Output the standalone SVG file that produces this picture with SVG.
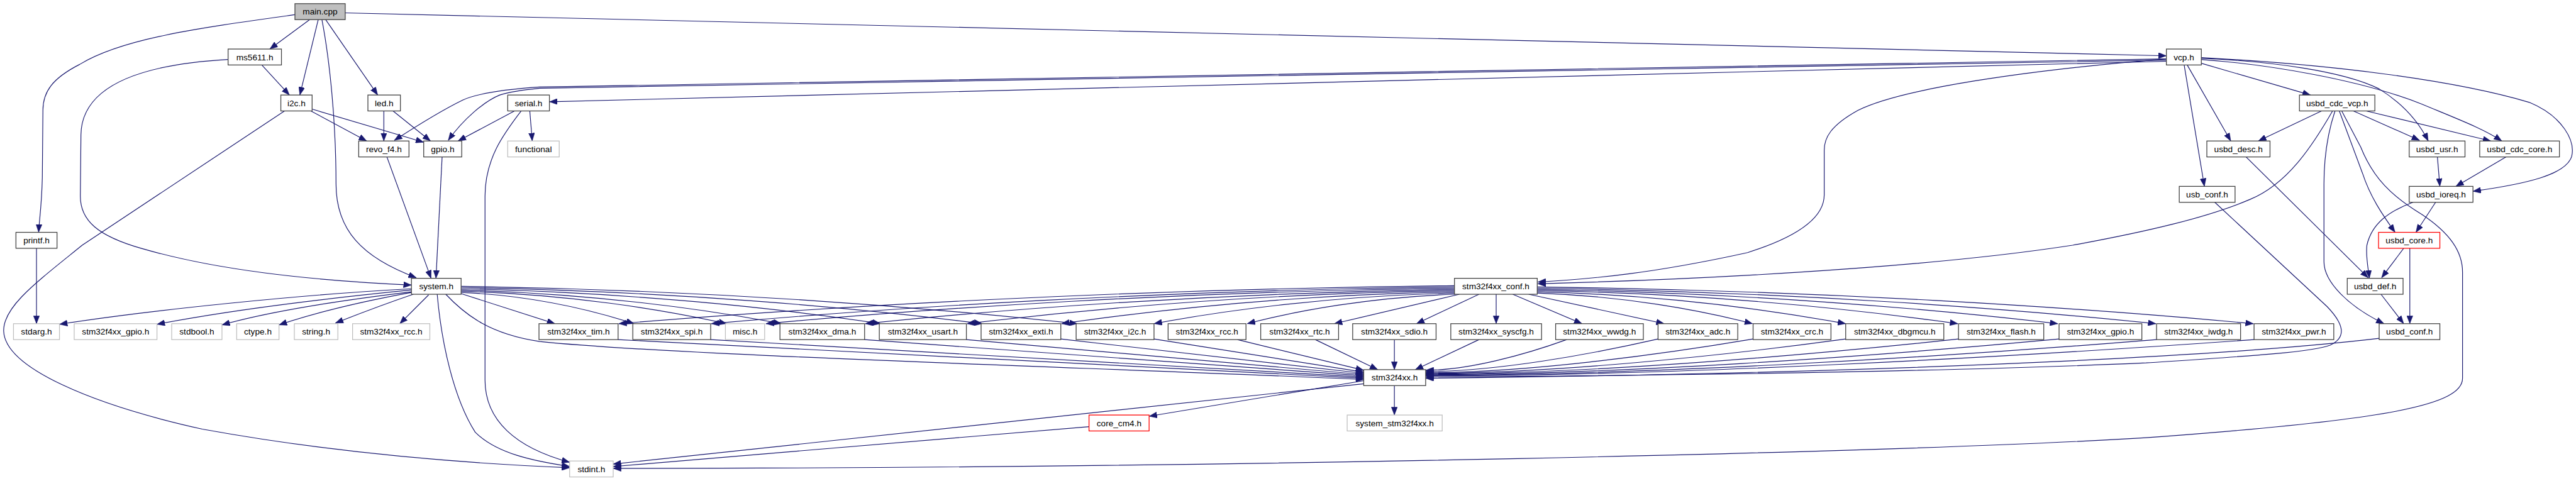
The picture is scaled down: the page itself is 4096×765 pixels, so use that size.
<svg xmlns="http://www.w3.org/2000/svg" width="4096" height="765" viewBox="0 0 4096 765">
<style>
.node rect{fill:#fff;stroke:#404040;stroke-width:1.3}
.node.g rect{stroke:#bfbfbf}
.node.r rect{stroke:#ff0000}
.node.m rect{fill:#bfbfbf}
.node text{font-family:"Liberation Sans",Arial,sans-serif;font-size:14px;text-anchor:middle;fill:#000}
#edges path{fill:none;stroke:#191970;stroke-width:1.2;marker-end:url(#a)}
</style>
<defs>
<marker id="a" viewBox="0 0 13 10" refX="13" refY="5" markerWidth="13" markerHeight="10" markerUnits="userSpaceOnUse" orient="auto"><path d="M0,0 L13,5 L0,10 z" fill="#191970" stroke="#191970" stroke-width="0.5"/></marker>
</defs>
<rect width="4096" height="765" fill="#fff"/>
<g transform="scale(0.975)">
<g id="edges">
<path d="M481,24 C330,45 200,62 130,105 C85,128 70,150 70,180 L69,290 C68,335 64,360 63,379"/>
<path d="M505,32 L440,80"/>
<path d="M519,32 L489,155"/>
<path d="M525,32 C538,100 548,200 548,300 C548,375 590,420 679,453"/>
<path d="M531,32 L616,155"/>
<path d="M563,21 L3533,91"/>
<path d="M427,106 L472,155"/>
<path d="M372,97 C230,105 133,140 132,220 L131,320 C131,360 160,385 230,405 C350,440 500,457 671,465"/>
<path d="M507,181 L598,230"/>
<path d="M509,178 L691,232"/>
<path d="M464,181 L134,400 C60,460 5,500 6,540 C8,600 150,660 330,700 C550,740 760,756 929,763"/>
<path d="M626,181 L626,230"/>
<path d="M641,181 L702,230"/>
<path d="M631,256 L703,454"/>
<path d="M721,256 L711,454"/>
<path d="M839,181 L747,230"/>
<path d="M850,181 C820,220 791,260 791,320 L791,620 C791,685 840,730 929,754"/>
<path d="M864,181 L868,230"/>
<path d="M59.5,405 L59.5,528"/>
<path d="M3533,100 L896,166"/>
<path d="M3533,96 L880,142 C820,146 780,152 755,163 C720,180 680,205 643,229"/>
<path d="M3533,98 L880,144 C850,147 830,150 815,155 C790,165 755,195 731,229"/>
<path d="M3533,96 C3300,115 3100,145 3030,180 C2985,205 2975,225 2975,245 L2975,318 C2975,360 2920,390 2850,412 C2700,445 2600,455 2508,460"/>
<path d="M3804,181 C3770,240 3730,300 3670,325 C3600,355 3500,378 3380,400 C3200,428 2900,452 2508,463"/>
<path d="M3589,103 L3768,155"/>
<path d="M3567,106 L3638,230"/>
<path d="M3562,106 L3595,304"/>
<path d="M3589,95 C3700,100 3820,115 3880,145 C3920,170 3945,200 3960,230"/>
<path d="M3589,97 C3700,105 3850,130 3950,170 C4010,195 4050,210 4080,230"/>
<path d="M3589,94 C3800,105 4000,130 4125,167 C4180,190 4200,230 4194,255 C4185,285 4120,300 4033,312"/>
<path d="M3786,181 L3683,230"/>
<path d="M3808,181 C3795,220 3790,260 3790,300 L3790,427 C3790,460 3830,500 3888,528"/>
<path d="M3815,181 L3853,283 C3865,320 3885,350 3906,379"/>
<path d="M3819,181 L3850,240 C3870,290 3900,320 3950,350 C3995,380 4016,410 4016,444 L4016,617 C4016,660 3900,685 3500,714 C3100,738 2000,764 1000,764"/>
<path d="M3838,181 L3946,229"/>
<path d="M3859,181 L4062,230"/>
<path d="M3663,256 L3862,453"/>
<path d="M3972,330 L3940,379"/>
<path d="M3935,330 C3895,345 3868,365 3860,400 C3858,420 3862,435 3864,454"/>
<path d="M3920,405 L3884,453"/>
<path d="M3930,405 L3930,528"/>
<path d="M3883,480 L3920,528"/>
<path d="M3975,256 L3979,304"/>
<path d="M4087,256 L4005,304"/>
<path d="M3612,330 L3795,500 C3822,528 3828,550 3800,563 C3770,575 3650,582 3500,592 C3200,605 2800,612 2325,615"/>
<path d="M3880,552 C3600,585 3000,610 2325,617"/>
<path d="M2274,629 L2274,677"/>
<path d="M2224,621 L1874,679"/>
<path d="M2224,626 L1000,757"/>
<path d="M1776,696 L1000,761"/>
<path d="M727,480 C760,515 800,545 880,557 C1100,580 1800,600 2224,619"/>
<path d="M713,480 C720,560 740,650 775,705 C810,740 870,752 929,761"/>
<path d="M671,471 C500,480 250,505 97,529"/>
<path d="M671,473 C550,485 380,505 256,529"/>
<path d="M671,476 C580,487 450,505 362,530"/>
<path d="M671,477 C600,490 520,508 455,530"/>
<path d="M674,480 C630,495 590,510 547,527"/>
<path d="M699,481 L652,528"/>
<path d="M752,479 L905,528"/>
<path d="M752,477 C865,482 963,505 1034,528"/>
<path d="M752,475 C925,480 1077,504 1185,528"/>
<path d="M752,473 C961,479 1144,503 1274,528"/>
<path d="M752,471 C1026,477 1265,502 1436,528"/>
<path d="M752,469 C1092,475 1390,501 1602,528"/>
<path d="M752,467 C1154,473 1506,501 1757,528"/>
<path d="M2372,466 C1827,472 1350,500 1009,528"/>
<path d="M2372,468 C1887,474 1463,501 1160,528"/>
<path d="M2372,470 C1923,476 1530,502 1249,528"/>
<path d="M2372,472 C1988,478 1651,503 1411,528"/>
<path d="M2372,474 C2054,479 1776,504 1577,528"/>
<path d="M2372,476 C2116,481 1891,505 1731,528"/>
<path d="M2372,478 C2176,483 2004,505 1882,528"/>
<path d="M2372,480 C2237,485 2118,506 2034,528"/>
<path d="M2380,480 L2176,528"/>
<path d="M2412,480 L2310,528"/>
<path d="M2440,480 L2440,528"/>
<path d="M2467,480 L2580,528"/>
<path d="M2493,480 L2714,528"/>
<path d="M2507,478 C2647,483 2770,505 2858,528"/>
<path d="M2507,476 C2708,481 2884,505 3010,528"/>
<path d="M2507,474 C2781,479 3022,504 3193,528"/>
<path d="M2507,472 C2847,478 3144,503 3356,528"/>
<path d="M2507,470 C2911,476 3264,502 3516,528"/>
<path d="M2507,468 C2974,474 3383,501 3675,528"/>
<path d="M1008,554 L2224,617"/>
<path d="M1159,554 L2224,615"/>
<path d="M1410,554 L2224,613"/>
<path d="M1576,554 L2224,611"/>
<path d="M1730,553 L2224,609"/>
<path d="M1882,553 L2224,607"/>
<path d="M2018,554 L2224,604"/>
<path d="M2145,554 L2247,603"/>
<path d="M2274,554 L2274,603"/>
<path d="M2412,554 L2308,603"/>
<path d="M2555,554 C2486,579 2394,604 2325,604"/>
<path d="M2704,553 C2590,579 2439,606 2325,606"/>
<path d="M2859,553 C2699,580 2485,608 2325,608"/>
<path d="M3010,553 C2805,581 2530,609 2325,609"/>
<path d="M3194,553 C2933,581 2586,610 2325,610"/>
<path d="M3358,553 C3048,582 2635,611 2325,611"/>
<path d="M3517,554 C3159,583 2683,612 2325,612"/>
<path d="M3676,554 C3271,583 2730,613 2325,613"/>
</g>
<g id="main_cpp" class="node m"><rect x="481" y="6" width="82" height="26"/><text x="522" y="24">main.cpp</text></g>
<g id="ms5611_h" class="node"><rect x="372" y="80" width="87" height="26"/><text x="415.5" y="98">ms5611.h</text></g>
<g id="vcp_h" class="node"><rect x="3533" y="80" width="57" height="26"/><text x="3561.5" y="98">vcp.h</text></g>
<g id="i2c_h" class="node"><rect x="458" y="155" width="51" height="26"/><text x="483.5" y="173">i2c.h</text></g>
<g id="led_h" class="node"><rect x="600" y="155" width="53" height="26"/><text x="626.5" y="173">led.h</text></g>
<g id="serial_h" class="node"><rect x="828" y="155" width="68" height="26"/><text x="862" y="173">serial.h</text></g>
<g id="usbd_cdc_vcp_h" class="node"><rect x="3750" y="155" width="123" height="26"/><text x="3811.5" y="173">usbd_cdc_vcp.h</text></g>
<g id="revo_f4_h" class="node"><rect x="585" y="230" width="82" height="26"/><text x="626" y="248">revo_f4.h</text></g>
<g id="gpio_h" class="node"><rect x="691" y="230" width="62" height="26"/><text x="722" y="248">gpio.h</text></g>
<g id="functional" class="node g"><rect x="828" y="230" width="84" height="26"/><text x="870" y="248">functional</text></g>
<g id="usbd_desc_h" class="node"><rect x="3599" y="230" width="103" height="26"/><text x="3650.5" y="248">usbd_desc.h</text></g>
<g id="usbd_usr_h" class="node"><rect x="3929" y="230" width="91" height="26"/><text x="3974.5" y="248">usbd_usr.h</text></g>
<g id="usbd_cdc_core_h" class="node"><rect x="4044" y="230" width="130" height="26"/><text x="4109" y="248">usbd_cdc_core.h</text></g>
<g id="usb_conf_h" class="node"><rect x="3554" y="304" width="91" height="26"/><text x="3599.5" y="322">usb_conf.h</text></g>
<g id="usbd_ioreq_h" class="node"><rect x="3929" y="304" width="104" height="26"/><text x="3981" y="322">usbd_ioreq.h</text></g>
<g id="printf_h" class="node"><rect x="26" y="379" width="67" height="26"/><text x="59.5" y="397">printf.h</text></g>
<g id="usbd_core_h" class="node r"><rect x="3879" y="379" width="100" height="26"/><text x="3929" y="397">usbd_core.h</text></g>
<g id="system_h" class="node"><rect x="671" y="454" width="81" height="26"/><text x="711.5" y="472">system.h</text></g>
<g id="stm32f4xx_conf_h" class="node"><rect x="2372" y="454" width="135" height="26"/><text x="2439.5" y="472">stm32f4xx_conf.h</text></g>
<g id="usbd_def_h" class="node"><rect x="3828" y="454" width="91" height="26"/><text x="3873.5" y="472">usbd_def.h</text></g>
<g id="stdarg_h" class="node g"><rect x="22" y="528" width="75" height="26"/><text x="59.5" y="546">stdarg.h</text></g>
<g id="stm32f4xx_gpio_h_ext" class="node g"><rect x="121" y="528" width="135" height="26"/><text x="188.5" y="546">stm32f4xx_gpio.h</text></g>
<g id="stdbool_h" class="node g"><rect x="280" y="528" width="82" height="26"/><text x="321" y="546">stdbool.h</text></g>
<g id="ctype_h" class="node g"><rect x="386" y="528" width="69" height="26"/><text x="420.5" y="546">ctype.h</text></g>
<g id="string_h" class="node g"><rect x="480" y="528" width="71" height="26"/><text x="515.5" y="546">string.h</text></g>
<g id="stm32f4xx_rcc_h_ext" class="node g"><rect x="575" y="528" width="126" height="26"/><text x="638" y="546">stm32f4xx_rcc.h</text></g>
<g id="stm32f4xx_tim_h" class="node"><rect x="879" y="528" width="129" height="26"/><text x="943.5" y="546">stm32f4xx_tim.h</text></g>
<g id="stm32f4xx_spi_h" class="node"><rect x="1032" y="528" width="127" height="26"/><text x="1095.5" y="546">stm32f4xx_spi.h</text></g>
<g id="misc_h" class="node g"><rect x="1183" y="528" width="64" height="26"/><text x="1215" y="546">misc.h</text></g>
<g id="stm32f4xx_dma_h" class="node"><rect x="1272" y="528" width="138" height="26"/><text x="1341" y="546">stm32f4xx_dma.h</text></g>
<g id="stm32f4xx_usart_h" class="node"><rect x="1434" y="528" width="142" height="26"/><text x="1505" y="546">stm32f4xx_usart.h</text></g>
<g id="stm32f4xx_exti_h" class="node"><rect x="1600" y="528" width="130" height="26"/><text x="1665" y="546">stm32f4xx_exti.h</text></g>
<g id="stm32f4xx_i2c_h" class="node"><rect x="1755" y="528" width="127" height="26"/><text x="1818.5" y="546">stm32f4xx_i2c.h</text></g>
<g id="stm32f4xx_rcc_h" class="node"><rect x="1905" y="528" width="127" height="26"/><text x="1968.5" y="546">stm32f4xx_rcc.h</text></g>
<g id="stm32f4xx_rtc_h" class="node"><rect x="2056" y="528" width="127" height="26"/><text x="2119.5" y="546">stm32f4xx_rtc.h</text></g>
<g id="stm32f4xx_sdio_h" class="node"><rect x="2206" y="528" width="136" height="26"/><text x="2274" y="546">stm32f4xx_sdio.h</text></g>
<g id="stm32f4xx_syscfg_h" class="node"><rect x="2366" y="528" width="148" height="26"/><text x="2440" y="546">stm32f4xx_syscfg.h</text></g>
<g id="stm32f4xx_wwdg_h" class="node"><rect x="2537" y="528" width="143" height="26"/><text x="2608.5" y="546">stm32f4xx_wwdg.h</text></g>
<g id="stm32f4xx_adc_h" class="node"><rect x="2704" y="528" width="130" height="26"/><text x="2769" y="546">stm32f4xx_adc.h</text></g>
<g id="stm32f4xx_crc_h" class="node"><rect x="2859" y="528" width="127" height="26"/><text x="2922.5" y="546">stm32f4xx_crc.h</text></g>
<g id="stm32f4xx_dbgmcu_h" class="node"><rect x="3010" y="528" width="160" height="26"/><text x="3090" y="546">stm32f4xx_dbgmcu.h</text></g>
<g id="stm32f4xx_flash_h" class="node"><rect x="3194" y="528" width="139" height="26"/><text x="3263.5" y="546">stm32f4xx_flash.h</text></g>
<g id="stm32f4xx_gpio_h" class="node"><rect x="3358" y="528" width="135" height="26"/><text x="3425.5" y="546">stm32f4xx_gpio.h</text></g>
<g id="stm32f4xx_iwdg_h" class="node"><rect x="3517" y="528" width="137" height="26"/><text x="3585.5" y="546">stm32f4xx_iwdg.h</text></g>
<g id="stm32f4xx_pwr_h" class="node"><rect x="3676" y="528" width="130" height="26"/><text x="3741" y="546">stm32f4xx_pwr.h</text></g>
<g id="usbd_conf_h" class="node"><rect x="3880" y="528" width="99" height="26"/><text x="3929.5" y="546">usbd_conf.h</text></g>
<g id="stm32f4xx_h" class="node"><rect x="2224" y="603" width="101" height="26"/><text x="2274.5" y="621">stm32f4xx.h</text></g>
<g id="core_cm4_h" class="node r"><rect x="1776" y="677" width="98" height="26"/><text x="1825" y="695">core_cm4.h</text></g>
<g id="system_stm32f4xx_h" class="node g"><rect x="2197" y="677" width="155" height="26"/><text x="2274.5" y="695">system_stm32f4xx.h</text></g>
<g id="stdint_h" class="node g"><rect x="929" y="752" width="71" height="26"/><text x="964.5" y="770">stdint.h</text></g>
</g>
</svg>
